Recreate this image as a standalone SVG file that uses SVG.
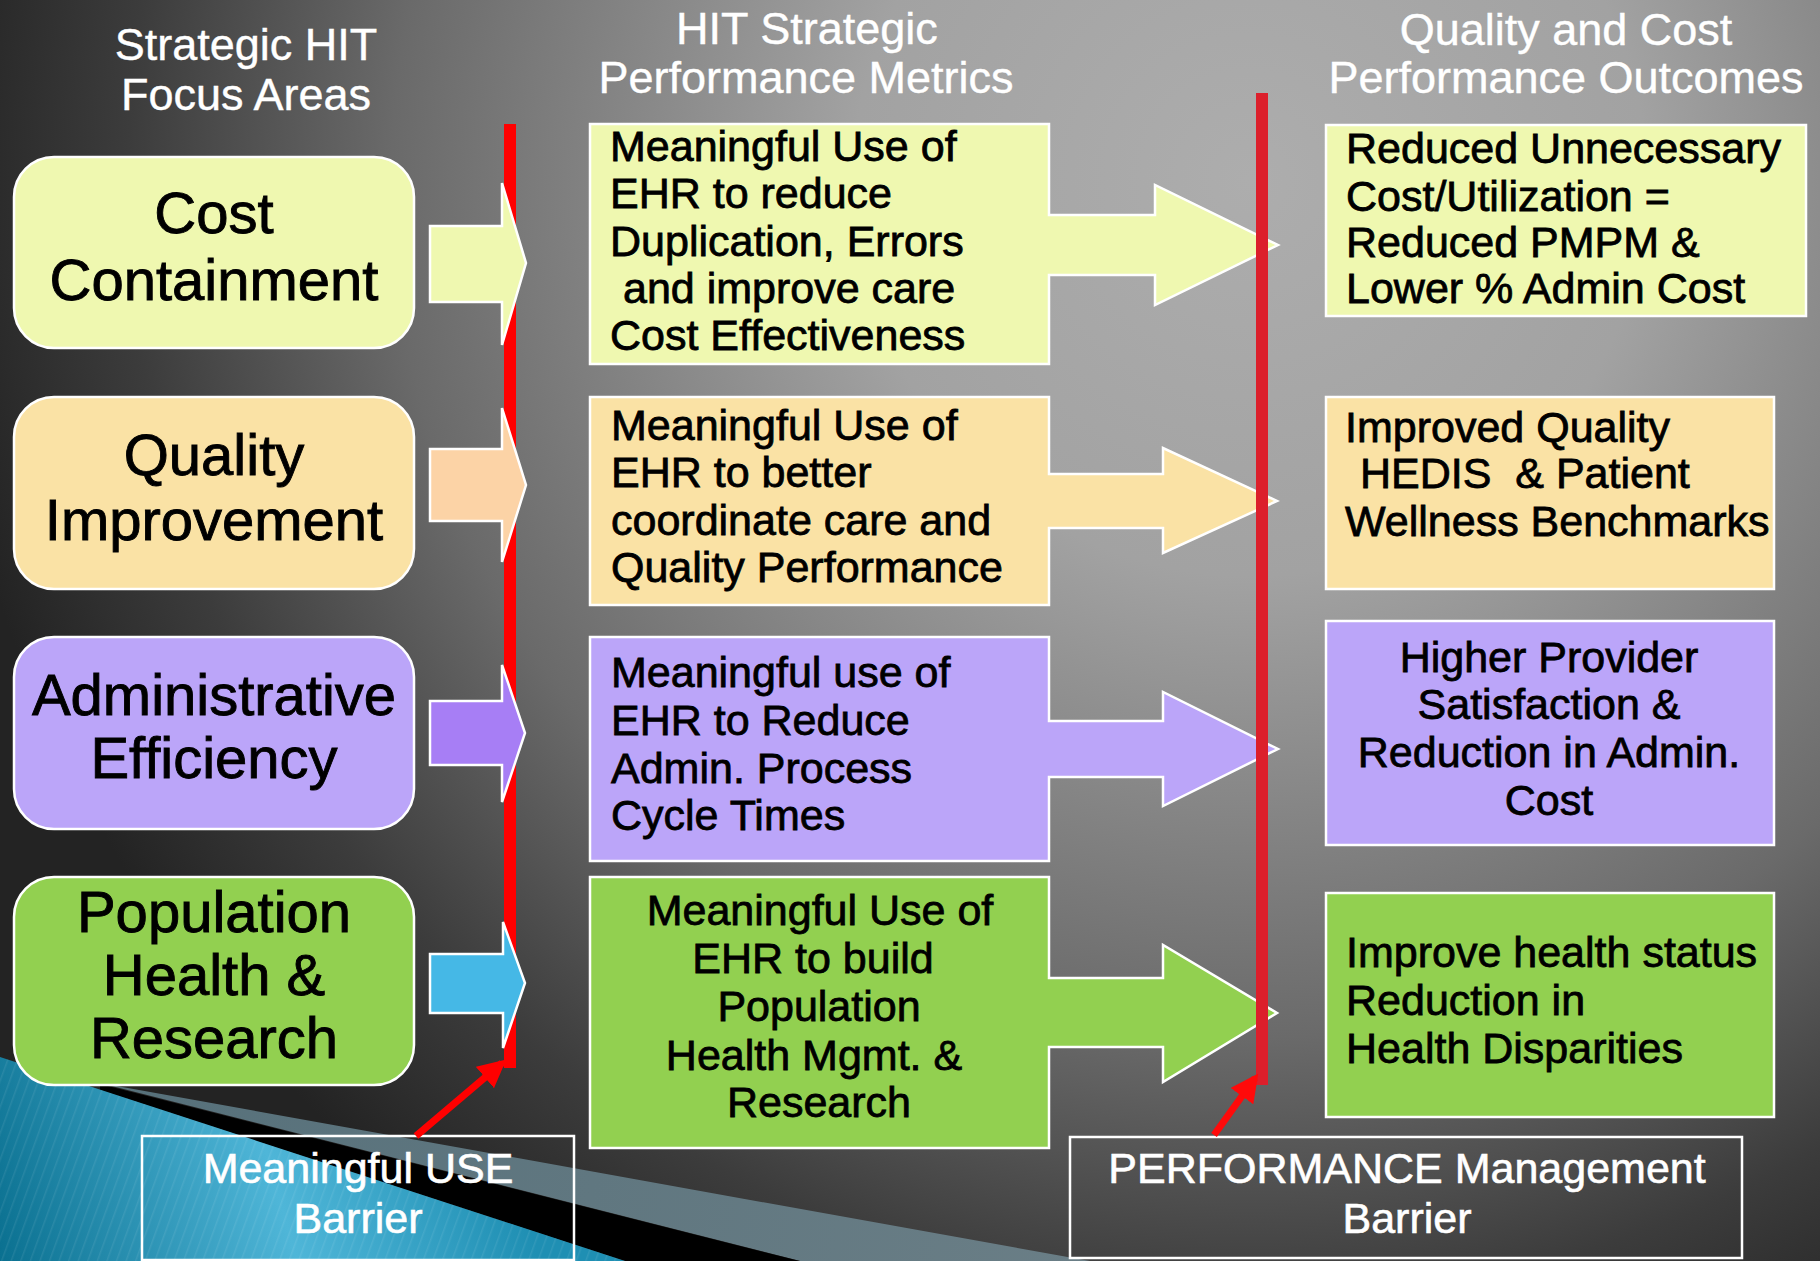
<svg xmlns="http://www.w3.org/2000/svg" width="1820" height="1261" viewBox="0 0 1820 1261">
<defs>
  <radialGradient id="bg" cx="1250" cy="180" r="1320" gradientUnits="userSpaceOnUse">
    <stop offset="0" stop-color="#adadad"/>
    <stop offset="0.3" stop-color="#a2a2a2"/>
    <stop offset="0.65" stop-color="#6a6a6a"/>
    <stop offset="0.85" stop-color="#3c3c3c"/>
    <stop offset="1" stop-color="#232323"/>
  </radialGradient>
  <linearGradient id="blue" x1="0" y1="1261" x2="500" y2="1120" gradientUnits="userSpaceOnUse">
    <stop offset="0" stop-color="#0a7090"/>
    <stop offset="0.55" stop-color="#4fb6d8"/>
    <stop offset="1" stop-color="#1f8fb3"/>
  </linearGradient>
  <linearGradient id="greyband" x1="100" y1="1080" x2="1090" y2="1261" gradientUnits="userSpaceOnUse">
    <stop offset="0" stop-color="#56707a"/>
    <stop offset="1" stop-color="#6a7e86"/>
  </linearGradient>
  <pattern id="stripes" width="9" height="9" patternUnits="userSpaceOnUse" patternTransform="rotate(20)">
    <rect width="9" height="9" fill="none"/>
    <line x1="0" y1="0" x2="0" y2="9" stroke="#ffffff" stroke-opacity="0.08" stroke-width="3"/>
  </pattern>
  <marker id="redhead" viewBox="0 0 10 10" refX="8" refY="5" markerWidth="4" markerHeight="4" orient="auto" markerUnits="strokeWidth">
    <path d="M0,0 L10,5 L0,10 Z" fill="#ff0000"/>
  </marker>
  <marker id="redhead2" viewBox="0 0 10 10" refX="8" refY="5" markerWidth="4" markerHeight="4" orient="auto" markerUnits="strokeWidth">
    <path d="M0,0 L10,5 L0,10 Z" fill="#ff0a0a"/>
  </marker>
</defs>
<style>
  text { font-family: "Liberation Sans", Arial, sans-serif; }
  .hdr { fill: #ffffff; font-size: 45px; text-anchor: middle; stroke: #ffffff; stroke-width: 0.4; }
  .big { fill: #000000; font-size: 58px; text-anchor: middle; stroke: #000000; stroke-width: 0.9; }
  .txt { fill: #000000; font-size: 43px; stroke: #000000; stroke-width: 0.8; }
  .mid { text-anchor: middle; }
  .bar { fill: #ffffff; font-size: 43px; text-anchor: middle; stroke: #ffffff; stroke-width: 0.6; }
  .node { stroke: #ffffff; stroke-width: 2.5; }
  .yg { fill: #eff8b0; }
  .wh { fill: #fae2a5; }
  .lv { fill: #bba5f9; }
  .gr { fill: #92d050; }
  .sarrow { stroke: #ffffff; stroke-width: 2.5; }
  .barrier { fill: none; stroke: #ffffff; stroke-width: 2.5; }
</style>

<g id="background">
  <rect x="0" y="0" width="1820" height="1261" fill="url(#bg)"/>
  <polygon points="100,1083 1090,1261 800,1261" fill="url(#greyband)"/>
  <polygon points="100,1084 800,1261 625,1261 100,1090" fill="#000000"/>
  <polygon points="0,1057 625,1261 0,1261" fill="url(#blue)"/>
  <polygon points="0,1057 625,1261 0,1261" fill="url(#stripes)"/>
</g>

<g id="headers">
  <text class="hdr" x="246" y="60">Strategic HIT</text>
  <text class="hdr" x="246" y="110">Focus Areas</text>
  <text class="hdr" x="807" y="44">HIT Strategic</text>
  <text class="hdr" x="806" y="93">Performance Metrics</text>
  <text class="hdr" x="1566" y="45">Quality and Cost</text>
  <text class="hdr" x="1566" y="93">Performance Outcomes</text>
</g>

<g id="focus-cost">
  <rect class="node yg" x="14" y="157" width="400" height="191" rx="40"/>
  <text class="big" x="214" y="233">Cost</text>
  <text class="big" x="214" y="300">Containment</text>
</g>
<g id="focus-quality">
  <rect class="node wh" x="14" y="397" width="400" height="192" rx="40"/>
  <text class="big" x="214" y="475">Quality</text>
  <text class="big" x="214" y="540">Improvement</text>
</g>
<g id="focus-admin">
  <rect class="node lv" x="14" y="637" width="400" height="192" rx="40"/>
  <text class="big" x="214" y="715">Administrative</text>
  <text class="big" x="214" y="778">Efficiency</text>
</g>
<g id="focus-population">
  <rect class="node gr" x="14" y="877" width="400" height="208" rx="40"/>
  <text class="big" x="214" y="932">Population</text>
  <text class="big" x="214" y="995">Health &amp;</text>
  <text class="big" x="214" y="1058">Research</text>
</g>

<g id="metric-cost">
  <path class="node yg" d="M590,124 H1049 V215 H1155 V185 L1278,245 L1155,305 V275 H1049 V364 H590 Z"/>
  <text class="txt" x="610" y="161">Meaningful Use of</text>
  <text class="txt" x="610" y="208">EHR to reduce</text>
  <text class="txt" x="610" y="256">Duplication, Errors</text>
  <text class="txt" x="623" y="303">and improve care</text>
  <text class="txt" x="610" y="350">Cost Effectiveness</text>
</g>
<g id="metric-quality">
  <path class="node wh" d="M590,397 H1049 V474 H1163 V448 L1277,501 L1163,553 V528 H1049 V605 H590 Z"/>
  <text class="txt" x="611" y="440">Meaningful Use of</text>
  <text class="txt" x="611" y="487">EHR to better</text>
  <text class="txt" x="611" y="535">coordinate care and</text>
  <text class="txt" x="611" y="582">Quality Performance</text>
</g>
<g id="metric-admin">
  <path class="node lv" d="M590,637 H1049 V721 H1163 V692 L1278,749 L1163,806 V777 H1049 V861 H590 Z"/>
  <text class="txt" x="611" y="687">Meaningful use of</text>
  <text class="txt" x="611" y="735">EHR to Reduce</text>
  <text class="txt" x="611" y="783">Admin. Process</text>
  <text class="txt" x="611" y="830">Cycle Times</text>
</g>
<g id="metric-population">
  <path class="node gr" d="M590,877 H1049 V978 H1163 V945 L1277,1013 L1163,1082 V1047 H1049 V1148 H590 Z"/>
  <text class="txt mid" x="820" y="925">Meaningful Use of</text>
  <text class="txt mid" x="813" y="973">EHR to build</text>
  <text class="txt mid" x="819" y="1021">Population</text>
  <text class="txt mid" x="814" y="1070">Health Mgmt. &amp;</text>
  <text class="txt mid" x="819" y="1117">Research</text>
</g>

<g id="outcome-cost">
  <rect class="node yg" x="1326" y="125" width="480" height="191"/>
  <text class="txt" x="1346" y="163">Reduced Unnecessary</text>
  <text class="txt" x="1346" y="211">Cost/Utilization =</text>
  <text class="txt" x="1346" y="257">Reduced PMPM &amp;</text>
  <text class="txt" x="1346" y="303">Lower % Admin Cost</text>
</g>
<g id="outcome-quality">
  <rect class="node wh" x="1326" y="397" width="448" height="192"/>
  <text class="txt" x="1345" y="442">Improved Quality</text>
  <text class="txt" x="1360" y="488" xml:space="preserve">HEDIS  &amp; Patient</text>
  <text class="txt" x="1345" y="536">Wellness Benchmarks</text>
</g>
<g id="outcome-admin">
  <rect class="node lv" x="1326" y="621" width="448" height="224"/>
  <text class="txt mid" x="1549" y="672">Higher Provider</text>
  <text class="txt mid" x="1549" y="719">Satisfaction &amp;</text>
  <text class="txt mid" x="1549" y="767">Reduction in Admin.</text>
  <text class="txt mid" x="1549" y="815">Cost</text>
</g>
<g id="outcome-population">
  <rect class="node gr" x="1326" y="893" width="448" height="224"/>
  <text class="txt" x="1346" y="967">Improve health status</text>
  <text class="txt" x="1346" y="1015">Reduction in</text>
  <text class="txt" x="1346" y="1063">Health Disparities</text>
</g>

<g id="barrier-meaningful-use">
  <rect class="barrier" x="142" y="1136" width="432" height="124"/>
  <text class="bar" x="358" y="1183">Meaningful USE</text>
  <text class="bar" x="358" y="1233">Barrier</text>
</g>
<g id="barrier-performance">
  <rect class="barrier" x="1070" y="1137" width="672" height="121"/>
  <text class="bar" x="1407" y="1183">PERFORMANCE Management</text>
  <text class="bar" x="1407" y="1233">Barrier</text>
</g>

<g id="connectors">
  <rect x="504" y="124" width="12" height="944" fill="#ff0000"/>
  <rect x="1256" y="93" width="12" height="992" fill="#dc1f2b"/>
  <path class="sarrow yg" d="M430,226 H502 V183 L526,263 L502,345 V302 H430 Z"/>
  <path class="sarrow" fill="#fcd3a6" d="M430,449 H502 V408 L526,485 L502,562 V521 H430 Z"/>
  <path class="sarrow" fill="#a77ef5" d="M430,701 H502 V665 L525,733 L502,802 V765 H430 Z"/>
  <path class="sarrow" fill="#45b8e6" d="M430,954 H503 V922 L525,983 L503,1048 V1013 H430 Z"/>
  <line x1="416" y1="1136" x2="502" y2="1063" stroke="#ff0000" stroke-width="7" marker-end="url(#redhead)"/>
  <line x1="1214" y1="1135" x2="1255" y2="1078" stroke="#ff0a0a" stroke-width="7" marker-end="url(#redhead2)"/>
</g>
</svg>
